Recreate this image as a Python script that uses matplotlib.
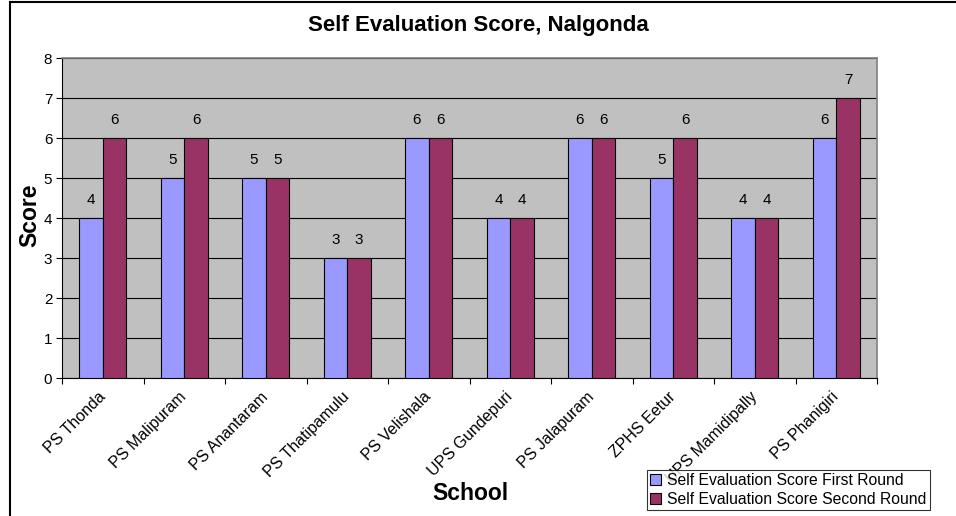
import matplotlib.pyplot as plt
import numpy as np
import matplotlib.transforms as mtransforms
from matplotlib.lines import Line2D

plt.rcParams['font.family'] = ['Liberation Sans', 'DejaVu Sans']

# Chart data
schools = ["PS Thonda", "PS Malipuram", "PS Anantaram", "PS Thatipamulu", "PS Velishala",
           "UPS Gundepuri", "PS Jalapuram", "ZPHS Eetur", "UPS Mamidipally", "PS Phanigiri"]
first_round = [4, 5, 5, 3, 6, 4, 6, 5, 4, 6]
second_round = [6, 6, 5, 3, 6, 4, 6, 6, 4, 7]

fig = plt.figure(figsize=(9.56, 5.16), dpi=100)
W, H = 956, 516

# plot area in pixels: x 62..877, y 58..378
ax = fig.add_axes([62 / W, 1 - 378 / H, (877 - 62) / W, (378 - 58) / H])
ax.set_facecolor('#C0C0C0')

x = np.arange(len(schools))
bw = 0.29
b1 = ax.bar(x - bw / 2, first_round, bw, color='#9999FF', edgecolor='black', linewidth=0.8,
            label="Self Evaluation Score First Round", zorder=3)
b2 = ax.bar(x + bw / 2, second_round, bw, color='#993366', edgecolor='black', linewidth=0.8,
            label="Self Evaluation Score Second Round", zorder=3)

for bars, vals in ((b1, first_round), (b2, second_round)):
    for rect, v in zip(bars, vals):
        ax.text(rect.get_x() + rect.get_width() / 2, v + 0.27, str(v),
                ha='center', va='bottom', fontsize=11)

ax.set_xlim(-0.5, len(schools) - 0.5)
ax.set_ylim(0, 8)
ax.set_yticks(range(0, 9))
ax.yaxis.grid(True, color='black', linewidth=0.8, zorder=1)
ax.set_axisbelow(True)

ax.set_xticks(np.arange(len(schools) + 1) - 0.5, minor=False)
ax.set_xticklabels([])
ax.set_xticks(x, minor=True)
ax.set_xticklabels(schools, minor=True, rotation=45, ha='right', va='center',
                   rotation_mode='anchor', fontsize=11.5)
shift = mtransforms.ScaledTranslation(-7 / 100, 0, fig.dpi_scale_trans)
for lbl in ax.get_xticklabels(minor=True):
    lbl.set_transform(lbl.get_transform() + shift)
ax.tick_params(axis='x', which='minor', length=0, pad=12)
ax.tick_params(axis='x', which='major', length=4, direction='out', width=0.8)
ax.tick_params(axis='y', length=4, width=0.8, labelsize=11, pad=3)

for side in ('top', 'right'):
    ax.spines[side].set_color('#808080')
    ax.spines[side].set_linewidth(1.2)
ax.spines['left'].set_color('black')
ax.spines['bottom'].set_color('black')

fig.text(478 / W, 1 - 26 / H, "Self Evaluation Score, Nalgonda", ha='center', va='center',
         fontsize=16, fontweight='bold')
fig.text(30 / W, 1 - 215 / H, "Score", ha='center', va='center', rotation=90,
         fontsize=16.5, fontweight='bold')
fig.text(470 / W, 1 - 494 / H, "School", ha='center', va='center',
         fontsize=16.5, fontweight='bold')

leg = fig.legend(handles=[b1, b2], loc='upper left',
                 bbox_to_anchor=(647 / W, 1 - 470 / H), frameon=True, fancybox=False,
                 fontsize=11.3, handlelength=0.7, handleheight=0.7, handletextpad=0.4,
                 borderpad=0.2, labelspacing=0.25, borderaxespad=0)
leg.get_frame().set_edgecolor('black')
leg.get_frame().set_linewidth(0.8)

# outer chart border (top and left visible)
fig.add_artist(Line2D([10 / W, 1], [1 - 2 / H, 1 - 2 / H], color='black', linewidth=1.5))
fig.add_artist(Line2D([10 / W, 10 / W], [0, 1 - 2 / H], color='black', linewidth=1.5))

fig.savefig("out.png", dpi=100, facecolor='white')
